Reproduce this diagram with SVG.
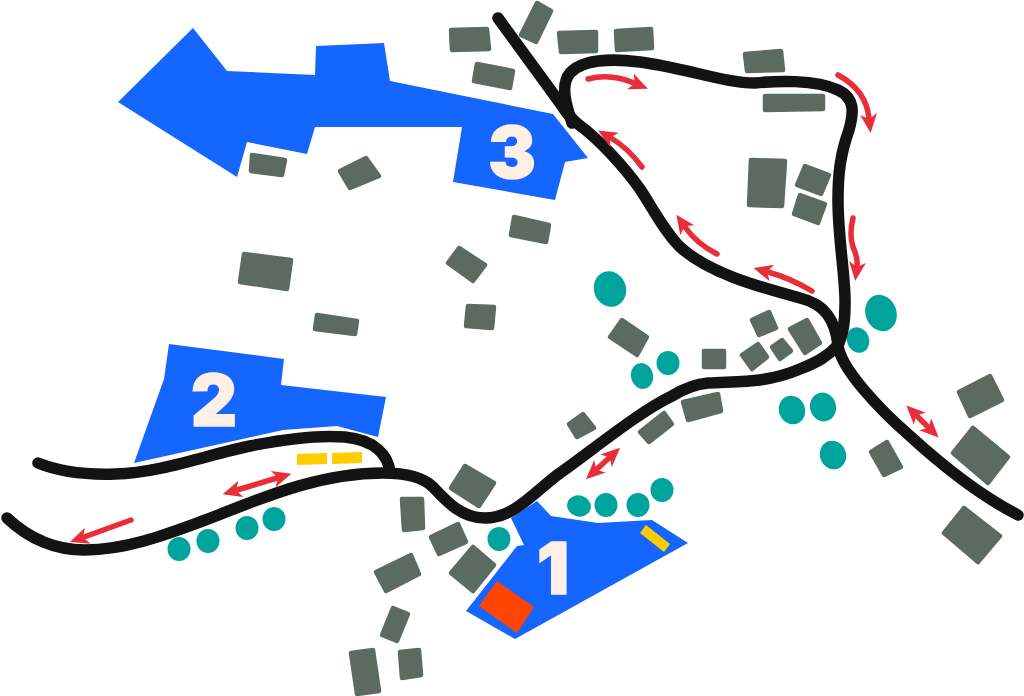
<svg xmlns="http://www.w3.org/2000/svg" width="1024" height="696" viewBox="0 0 1024 696">
<defs>
<style>
.b{fill:#5b6b62;stroke:#5b6b62;stroke-width:4.500;stroke-linejoin:round}
.z{fill:#1565ff}
.y{fill:#ffcc00}
.t{fill:#00a49c}
.r{fill:none;stroke:#121312;stroke-width:11.500;stroke-linecap:round;stroke-linejoin:round}
.a{fill:none;stroke:#e92e3a;stroke-width:5.500;stroke-linecap:round}
.e{marker-end:url(#h)}
.d{marker-end:url(#h);marker-start:url(#h)}
.n{font-family:Inter,"Liberation Sans",sans-serif;font-weight:900;font-size:71px;fill:#fff0e6;stroke:#fff0e6;stroke-width:1.500;text-anchor:middle}
</style>
<marker id="h" markerUnits="userSpaceOnUse" markerWidth="24" markerHeight="24" refX="4" refY="12" orient="auto-start-reverse" viewBox="0 0 24 24"><path d="M0,3.500L19,12L0,20.500L5,12Z" fill="#e92e3a"/></marker>
</defs>
<rect width="1024" height="696" fill="#fff"/>
<g id="zones">
<polygon class="z" points="193,28 227,71 315,75 316,46 384,43 390,81 553,114 588,158 565,162 555,200 453,182 462,127 315,127 307,154 247,142 237,177 118,102"/>
<polygon class="z" points="169,344 284,359 281,385 386,397 378,437 337,426 283,430 134,463 164,379"/>
<polygon class="z" points="511,518 537,501 551,516 598,523 652,520 688,543 515,639 466,611 517,546 524,545"/>
<polygon points="497,581 534,607 517,633 479,606" fill="#ff4500"/>
<polygon class="y" points="646,525 670,544 664,552 640,533"/>
<polygon class="y" points="297,454 327,453 327,464 297,465"/>
<polygon class="y" points="332,453 362,452 362,463 332,464"/>
</g>
<g id="buildings">
<polygon class="b" points="451,30 487,29 489,49 452,50"/>
<polygon class="b" points="537,3 551,11 536,42 521,35"/>
<polygon class="b" points="559,33 596,32 596,51 561,52"/>
<polygon class="b" points="616,31 651,29 652,48 617,50"/>
<polygon class="b" points="477,64 513,71 510,88 474,81"/>
<polygon class="b" points="745,54 781,51 783,70 747,71"/>
<polygon class="b" points="765,96 823,96 823,109 765,110"/>
<polygon class="b" points="751,160 785,161 782,206 749,205"/>
<polygon class="b" points="805,166 829,175 821,194 797,185"/>
<polygon class="b" points="800,195 825,204 818,223 794,214"/>
<polygon class="b" points="514,217 549,225 546,242 511,235"/>
<polygon class="b" points="459,248 485,265 473,281 448,263"/>
<polygon class="b" points="252,155 285,160 282,175 251,171"/>
<polygon class="b" points="366,158 379,176 350,188 340,171"/>
<polygon class="b" points="244,254 291,260 287,289 240,282"/>
<polygon class="b" points="317,315 357,321 355,334 315,329"/>
<polygon class="b" points="468,306 494,307 492,328 466,326"/>
<polygon class="b" points="622,320 647,337 637,355 610,337"/>
<polygon class="b" points="704,351 724,351 724,367 704,367"/>
<polygon class="b" points="752,320 769,312 776,328 759,335"/>
<polygon class="b" points="790,329 807,320 820,343 805,353"/>
<polygon class="b" points="772,347 782,340 791,351 780,359"/>
<polygon class="b" points="742,355 758,344 767,357 752,369"/>
<polygon class="b" points="569,424 583,414 594,428 577,437"/>
<polygon class="b" points="640,432 664,413 672,424 649,442"/>
<polygon class="b" points="683,402 718,394 721,411 688,420"/>
<polygon class="b" points="871,452 887,442 901,467 884,475"/>
<polygon class="b" points="959,392 990,376 1002,400 970,416"/>
<polygon class="b" points="973,428 1008,457 988,483 953,453"/>
<polygon class="b" points="964,508 1000,536 978,562 944,533"/>
<polygon class="b" points="465,466 494,483 479,506 451,488"/>
<polygon class="b" points="402,499 422,499 423,528 404,530"/>
<polygon class="b" points="431,537 458,524 466,542 439,554"/>
<polygon class="b" points="473,547 494,565 473,591 451,573"/>
<polygon class="b" points="376,572 411,555 419,574 386,591"/>
<polygon class="b" points="393,608 408,614 397,641 382,635"/>
<polygon class="b" points="351,653 373,650 379,691 357,694"/>
<polygon class="b" points="400,652 419,650 421,675 402,678"/>
</g>
<g id="trees">
<ellipse class="t" cx="610" cy="289" rx="16" ry="18" transform="rotate(-20 610 289)"/>
<ellipse class="t" cx="642" cy="376" rx="11" ry="13" transform="rotate(-15 642 376)"/>
<ellipse class="t" cx="668" cy="363" rx="11.500" ry="12"/>
<ellipse class="t" cx="881" cy="313" rx="15.500" ry="18.500" transform="rotate(-20 881 313)"/>
<ellipse class="t" cx="858" cy="340" rx="11" ry="13" transform="rotate(-20 858 340)"/>
<ellipse class="t" cx="792" cy="410" rx="13" ry="14.500" transform="rotate(-20 792 410)"/>
<ellipse class="t" cx="823" cy="407" rx="13" ry="14.500" transform="rotate(-15 823 407)"/>
<ellipse class="t" cx="833" cy="455" rx="13" ry="14.500" transform="rotate(-20 833 455)"/>
<ellipse class="t" cx="579" cy="506" rx="12" ry="10.500" transform="rotate(15 579 506)"/>
<ellipse class="t" cx="606" cy="505" rx="11.500" ry="12"/>
<ellipse class="t" cx="638" cy="505" rx="11.500" ry="12"/>
<ellipse class="t" cx="662" cy="490" rx="11.500" ry="12"/>
<ellipse class="t" cx="499" cy="539" rx="11.500" ry="12"/>
<ellipse class="t" cx="179" cy="549" rx="11.500" ry="12"/>
<ellipse class="t" cx="208" cy="541" rx="11.500" ry="12"/>
<ellipse class="t" cx="247" cy="528" rx="11.500" ry="12"/>
<ellipse class="t" cx="274" cy="519" rx="11.500" ry="12"/>
</g>
<g id="connectors">
<path class="r" d="M7,518C25,535 50,550 85,550C125,550 165,535 200,522C245,506 310,473 383,473C410,473 425,479 433,487C448,503 462,518 485,518C515,518 535,491 560,473C590,452 640,411 672,396C685,388 695,384 708,383C735,381 765,384 800,369C818,362 828,356 838,345"/>
<path class="r" d="M498,18L560,103C566,112 570,118 578,124C600,140 625,168 640,189C655,212 665,232 680,247C710,274 760,287 800,298C825,304 835,320 838,345"/>
<path class="r" d="M572,123C566,105 560,85 570,73C582,60 610,58 640,62C685,68 725,83 755,83C775,81 815,79 838,90C855,98 854,112 849,130C840,155 838,175 838,200C838,240 846,280 845,305C845,320 843,335 838,345"/>
<path class="r" d="M838,345C840,368 880,410 910,436C945,468 985,498 1018,515"/>
<path class="r" d="M38,463C60,472 85,475 115,474C160,473 210,454 250,446C290,438 320,435 345,437C375,440 388,455 390,472"/>
<path class="a e" d="M588,79Q610,73 634,83"/>
<path class="a e" d="M642,167Q628,148 611,138"/>
<path class="a e" d="M717,254Q697,244 685,227"/>
<path class="a e" d="M812,291Q790,278 768,272"/>
<path class="a e" d="M838,75Q866,90 869,118"/>
<path class="a e" d="M853,218Q849,235 853,247Q858,258 857,266"/>
<path class="a d" d="M917,416L928,427"/>
<path class="a d" d="M597,469L609,458"/>
<path class="a d" d="M237,490L277,478"/>
<path class="a e" d="M131,520L84,537"/>
</g>
<g id="labels">
<text class="n" x="553" y="594">1</text>
<text class="n" x="214" y="426">2</text>
<text class="n" x="512" y="178">3</text>
</g>
</svg>
